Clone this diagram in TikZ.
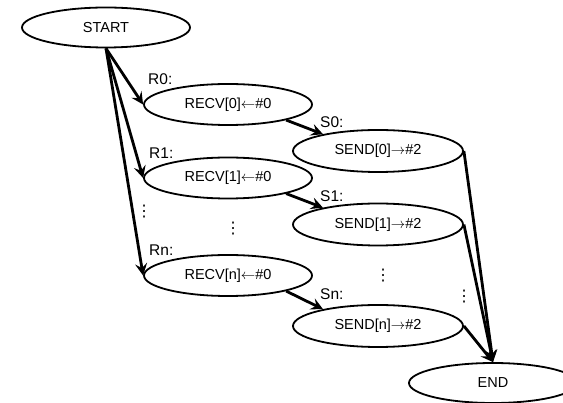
\documentclass[tikz,border=0pt]{standalone}
\usepackage{fontspec}
\setmainfont{Liberation Sans}
\newfontfamily\dotsfont{DejaVu Sans}
\usetikzlibrary{shapes.geometric,arrows.meta}
\tikzset{
  st/.style={ellipse,draw,line width=1.8pt,inner sep=0pt,minimum width=168pt,minimum height=41pt,font=\fontsize{14.5}{16}\selectfont},
  sd/.style={st,minimum width=170pt,minimum height=42pt},
  arr/.style={line width=2.8pt,-{Stealth[length=12pt,width=12pt,inset=4.5pt]}},
  lbl/.style={anchor=west,inner sep=0pt,font=\fontsize{15.5}{17}\selectfont},
  vd/.style={inner sep=0pt,font=\dotsfont\fontsize{16}{17}\selectfont}
}
\newcommand{\la}{\(\leftarrow\)}
\newcommand{\ra}{\(\rightarrow\)}
\begin{document}
\begin{tikzpicture}[x=1pt,y=-1pt]
\useasboundingbox (0,0) rectangle (563,403);
\node[st,minimum height=40pt] (start) at (106,27.5) {START};
\node[st] (r0) at (228,104.5) {RECV[0]\la\#0};
\node[st] (r1) at (228,178) {RECV[1]\la\#0};
\node[st] (rn) at (228,275.5) {RECV[n]\la\#0};
\node[sd] (s0) at (378,151) {SEND[0]\ra\#2};
\node[sd] (s1) at (378,224.5) {SEND[1]\ra\#2};
\node[sd] (sn) at (378,326) {SEND[n]\ra\#2};
\node[st,minimum height=40pt] (end) at (493,383) {END};
\node[lbl] (lr0) at (148,79) {R0:};
\node[lbl] (lr1) at (149,153) {R1:};
\node[lbl] (lrn) at (149,250) {Rn:};
\node[lbl] (ls0) at (320,122) {S0:};
\node[lbl] (ls1) at (320,196) {S1:};
\node[lbl] (lsn) at (320,294) {Sn:};
\node[vd] (d1) at (144,212) {⋮};
\node[vd] (d2) at (233,229) {⋮};
\node[vd] (d3) at (383,276) {⋮};
\node[vd] (d4) at (464,297) {⋮};
\draw[arr] (start.south) -- (r0.west);
\draw[arr] (start.south) -- (r1.west);
\draw[arr] (start.south) -- (rn.west);
\draw[arr] (r0.-15) -- (s0.163);
\draw[arr] (r1.-15) -- (s1.163);
\draw[arr] (rn.-15) -- (sn.163);
\draw[arr] (s0.east) -- (end.north);
\draw[arr] (s1.east) -- (end.north);
\draw[arr] (sn.east) -- (end.north);
\end{tikzpicture}
\end{document}
